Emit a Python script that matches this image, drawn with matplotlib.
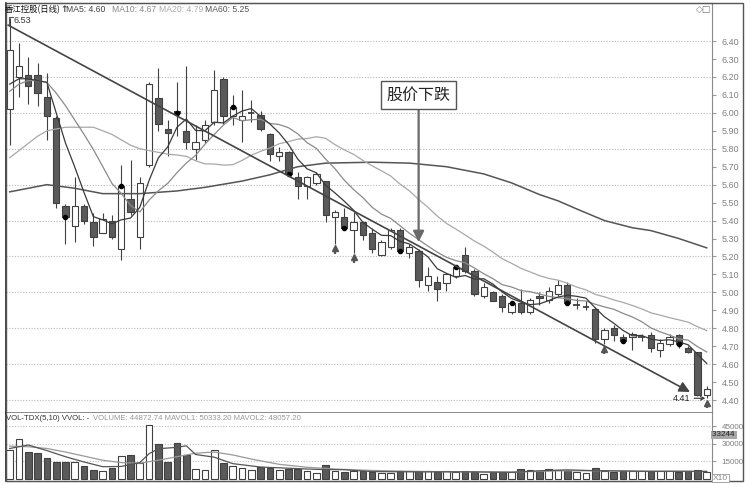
import matplotlib as mpl
mpl.use('Agg')
import matplotlib.pyplot as plt
from matplotlib.patches import Rectangle

plt.rcParams['font.family'] = ['Liberation Sans', 'Noto Sans CJK SC', 'DejaVu Sans']

# 日K線資料：開、高、低、收
opens = [6.02, 6.20, 6.21, 6.21, 6.09, 5.97, 5.48, 5.37, 5.48, 5.39,
         5.33, 5.40, 5.24, 5.52, 5.31, 5.71, 6.08, 5.91, 6.01, 5.90,
         5.80, 5.85, 5.95, 6.19, 5.98, 5.96, 6.00, 5.99, 5.88, 5.76,
         5.78, 5.64, 5.59, 5.61, 5.62, 5.42, 5.42, 5.35, 5.39, 5.33,
         5.21, 5.25, 5.35, 5.22, 5.23, 5.04, 5.06, 5.05, 5.09, 5.21,
         5.12, 4.98, 5.00, 4.98, 4.89, 4.94, 4.89, 4.98, 4.96, 4.99,
         5.04, 4.93, 4.92, 4.91, 4.74, 4.80, 4.75, 4.75, 4.75, 4.76,
         4.68, 4.71, 4.76, 4.69, 4.67, 4.43]
highs = [6.53, 6.39, 6.31, 6.28, 6.22, 5.98, 5.49, 5.64, 5.49, 5.44,
         5.44, 5.43, 5.71, 5.74, 5.64, 6.17, 6.25, 5.96, 6.17, 6.26,
         5.93, 5.96, 6.24, 6.20, 6.10, 6.13, 6.07, 6.01, 5.89, 5.81,
         5.79, 5.67, 5.65, 5.67, 5.62, 5.46, 5.47, 5.45, 5.40, 5.36,
         5.29, 5.36, 5.36, 5.27, 5.24, 5.14, 5.09, 5.11, 5.15, 5.25,
         5.13, 5.05, 5.01, 4.99, 4.95, 5.02, 4.97, 5.00, 5.03, 5.07,
         5.06, 4.97, 4.95, 4.92, 4.80, 4.82, 4.77, 4.78, 4.77, 4.78,
         4.74, 4.77, 4.77, 4.70, 4.67, 4.48]
lows = [5.82, 6.09, 6.05, 6.04, 5.85, 5.47, 5.27, 5.28, 5.38, 5.26,
        5.33, 5.30, 5.18, 5.43, 5.24, 5.70, 5.90, 5.76, 5.87, 5.80,
        5.74, 5.83, 5.93, 5.94, 5.93, 5.84, 5.95, 5.90, 5.73, 5.73,
        5.65, 5.52, 5.52, 5.60, 5.39, 5.27, 5.35, 5.22, 5.29, 5.22,
        5.20, 5.24, 5.22, 5.19, 5.03, 5.01, 4.95, 5.01, 5.08, 5.11,
        4.98, 4.97, 4.95, 4.89, 4.88, 4.88, 4.88, 4.93, 4.94, 4.98,
        4.93, 4.91, 4.90, 4.72, 4.71, 4.73, 4.72, 4.68, 4.73, 4.67,
        4.64, 4.70, 4.69, 4.66, 4.42, 4.41]
closes = [6.35, 6.26, 6.15, 6.11, 5.98, 5.50, 5.42, 5.48, 5.40, 5.31,
          5.41, 5.31, 5.59, 5.45, 5.61, 6.16, 5.94, 5.89, 6.00, 5.84,
          5.84, 5.93, 6.13, 5.98, 6.03, 5.98, 6.00, 5.91, 5.77, 5.78,
          5.66, 5.59, 5.64, 5.66, 5.43, 5.45, 5.36, 5.39, 5.32, 5.24,
          5.28, 5.35, 5.23, 5.25, 5.07, 5.09, 5.02, 5.10, 5.14, 5.12,
          4.99, 5.03, 4.95, 4.92, 4.94, 4.89, 4.96, 4.97, 5.01, 5.04,
          4.94, 4.93, 4.92, 4.74, 4.79, 4.76, 4.73, 4.77, 4.75, 4.69,
          4.72, 4.75, 4.71, 4.67, 4.43, 4.46]

# 均線
ma5 = [6.16, 6.19, 6.19, 6.18, 6.17, 6.00, 5.832, 5.698, 5.556, 5.422,
       5.404, 5.382, 5.404, 5.414, 5.474, 5.624, 5.75, 5.81, 5.92, 5.966,
       5.902, 5.90, 5.948, 5.944, 5.982, 6.01, 6.024, 5.98, 5.938, 5.888,
       5.824, 5.742, 5.688, 5.666, 5.596, 5.554, 5.508, 5.458, 5.39, 5.352,
       5.318, 5.316, 5.284, 5.27, 5.236, 5.198, 5.132, 5.106, 5.084, 5.094,
       5.074, 5.076, 5.046, 5.002, 4.966, 4.946, 4.932, 4.936, 4.954, 4.974,
       4.984, 4.978, 4.968, 4.914, 4.864, 4.828, 4.788, 4.758, 4.76, 4.74,
       4.732, 4.736, 4.724, 4.708, 4.656, 4.604]
ma10 = [6.12, 6.16, 6.18, 6.18, 6.17, 6.11, 6.04, 5.96, 5.88, 5.796,
        5.702, 5.607, 5.551, 5.485, 5.448, 5.514, 5.566, 5.607, 5.667, 5.72,
        5.763, 5.825, 5.879, 5.932, 5.974, 5.956, 5.962, 5.964, 5.941, 5.935,
        5.917, 5.883, 5.834, 5.802, 5.742, 5.689, 5.625, 5.573, 5.528, 5.474,
        5.436, 5.412, 5.371, 5.33, 5.294, 5.258, 5.224, 5.195, 5.177, 5.165,
        5.136, 5.104, 5.076, 5.043, 5.03, 5.01, 5.004, 4.991, 4.978, 4.97,
        4.965, 4.955, 4.952, 4.934, 4.919, 4.906, 4.883, 4.863, 4.837, 4.802,
        4.78, 4.762, 4.741, 4.734, 4.698, 4.668]
ma20 = [5.75, 5.79, 5.83, 5.87, 5.90, 5.91, 5.92, 5.92, 5.92, 5.92,
        5.90, 5.88, 5.85, 5.82, 5.80, 5.79, 5.78, 5.77, 5.765, 5.758,
        5.733, 5.716, 5.715, 5.709, 5.711, 5.735, 5.764, 5.786, 5.804, 5.828,
        5.84, 5.854, 5.857, 5.867, 5.858, 5.823, 5.794, 5.769, 5.735, 5.705,
        5.677, 5.648, 5.603, 5.566, 5.518, 5.474, 5.425, 5.384, 5.353, 5.320,
        5.286, 5.258, 5.224, 5.187, 5.162, 5.134, 5.114, 5.093, 5.078, 5.068,
        5.051, 5.030, 5.014, 4.989, 4.975, 4.958, 4.944, 4.927, 4.908, 4.886,
        4.873, 4.859, 4.847, 4.834, 4.809, 4.787]
ma60_idx = [1, 5, 8, 11, 15, 19, 22, 26, 29, 32, 35, 40, 44, 48, 52, 55,
            58, 60, 62, 65, 68, 70, 73, 76]
ma60 = [5.56, 5.60, 5.58, 5.55, 5.55, 5.565, 5.585, 5.62, 5.655, 5.70,
        5.72, 5.725, 5.72, 5.70, 5.66, 5.61, 5.545, 5.51, 5.465, 5.40,
        5.36, 5.344, 5.30, 5.248]

# 成交量
volume = [24300, 34300, 22800, 22000, 17700, 14900, 14900, 14300, 10700, 7800,
          6700, 9200, 19200, 20600, 13500, 45600, 30000, 14300, 30900, 20600,
          8700, 7800, 24900, 13500, 10700, 9200, 7800, 10100, 9200, 7800,
          8700, 8700, 6400, 4900, 12100, 7200, 5800, 6400, 6400, 5800,
          4900, 4900, 6400, 6400, 7200, 6400, 5800, 7200, 5800, 6400,
          5800, 4400, 5800, 5800, 5800, 8700, 8100, 7200, 8700, 8100,
          6400, 5800, 5300, 9200, 6400, 5800, 6400, 6400, 6400, 7200,
          6400, 6400, 5800, 6400, 7800, 5800]
vma1_idx = [1, 3, 5, 7, 9, 11, 13, 15, 16, 17, 19, 20, 21, 23, 25, 28, 31,
            34, 37, 40, 45, 50, 55, 58, 61, 64, 67, 70, 73, 76]
vma1 = [26000, 29000, 24200, 19000, 14500, 10500, 10700, 14000, 21600, 25800,
        27000, 28300, 20900, 18600, 13100, 10200, 9200, 8200, 7900, 6300,
        6100, 6100, 5700, 7000, 7800, 7100, 6800, 6500, 6600, 6500]
vma2_idx = [1, 3, 5, 7, 9, 11, 13, 15, 17, 19, 21, 23, 25, 27, 30, 33, 36,
            40, 45, 50, 55, 60, 65, 70, 76]
vma2 = [28000, 27500, 26000, 23000, 19500, 16000, 14000, 13500, 16000, 19000,
        22000, 23000, 20500, 17000, 12500, 10000, 8500, 7300, 6400, 6200,
        5900, 6900, 7100, 6600, 6400]

dot_idx = [7, 13, 19, 25, 31, 37, 43, 49, 55, 61, 67, 73]
mark_idx = [36, 38, 65, 76]
price_ticks = [round(4.4 + 0.1 * k, 2) for k in range(21)]
grid_levels = [round(4.4 + 0.2 * k, 2) for k in range(11)]

idx = list(range(1, len(closes) + 1))
W, H = 750, 484

fig = plt.figure(figsize=(7.5, 4.84), dpi=100)
ax = fig.add_axes([6 / W, 1 - 413 / H, 706 / W, 410 / H])
axv = fig.add_axes([6 / W, 1 - 481 / H, 706 / W, 68 / H])

dark = '#5a5a5a'
edge = '#404040'

# 格線
for g in grid_levels:
    ax.axhline(g, color='#b8b8b8', lw=0.8, ls=(0, (1, 1.5)), zorder=0)

# K線
for i in range(len(closes)):
    x, o, h, l, c = idx[i], opens[i], highs[i], lows[i], closes[i]
    ax.vlines(x, l, h, color=edge, lw=0.8, zorder=2)
    if abs(c - o) < 0.001:
        ax.hlines(c, x - 0.34, x + 0.34, color=edge, lw=1.3, zorder=3)
    else:
        ax.bar(x, abs(c - o), 0.68, bottom=min(o, c),
               color='white' if c > o else dark, edgecolor=edge, lw=0.8, zorder=3)

# 均線
ax.plot(ma60_idx, ma60, color='#555555', lw=1.1, zorder=4)
ax.plot(idx, ma20, color='#a8a8a8', lw=0.9, zorder=4)
ax.plot(idx, ma10, color='#8a8a8a', lw=0.9, zorder=4)
ax.plot(idx, ma5, color='#3a3a3a', lw=0.9, zorder=4)

ax.scatter(dot_idx, [closes[i - 1] for i in dot_idx], s=9, color='black', zorder=5)
for i in mark_idx:
    ax.vlines(i, lows[i - 1] - 0.055, lows[i - 1] - 0.03, color='#555555', lw=1.6, zorder=5)
    ax.plot(i, lows[i - 1] - 0.025, marker='^', ms=4.5, color='#555555', zorder=5)

# 下降趨勢線
ax.annotate('', xy=(74.2, 4.445), xytext=(0.82, 6.489),
            arrowprops=dict(arrowstyle='-|>', color='#444444', lw=1.2,
                            mutation_scale=16, shrinkA=0, shrinkB=0), zorder=6)

# 標註
ax.annotate('股价下跌', xy=(45.0, 5.28), xytext=(45.0, 6.10),
            ha='center', va='center', fontsize=11.5, color='#222222',
            family=['Noto Sans CJK SC'],
            bbox=dict(boxstyle='square,pad=0.35', fc='white', ec='#555555', lw=1),
            arrowprops=dict(arrowstyle='-|>', color='#6a6a6a', lw=1.6,
                            mutation_scale=16, shrinkA=0, shrinkB=0), zorder=7)

ax.plot([0.95, 0.95, 1.35], [6.49, 6.535, 6.535], color='#555555', lw=0.8)
ax.text(1.45, 6.515, '6.53', fontsize=6.5, color='#333333', va='center')
ax.annotate('4.41', xy=(76.0, 4.41), xytext=(74.2, 4.41), ha='right', va='center',
            fontsize=6.5, color='#222222',
            arrowprops=dict(arrowstyle='->', color='#333333', lw=0.8,
                            shrinkA=1, shrinkB=1))

ax.set_xlim(0.6, 76.57)
ax.set_ylim(4.328, 6.612)
ax.set_xticks([])
ax.yaxis.tick_right()
ax.set_yticks(price_ticks)
ax.set_yticklabels(['%.2f' % t for t in price_ticks])
ax.tick_params(axis='y', labelsize=6.5, labelcolor='#808080', color='#999999',
               length=3, pad=4)
ax.spines['left'].set_color('#222222')
ax.spines['left'].set_linewidth(1.2)
ax.spines['top'].set_color('#555555')
ax.spines['right'].set_color('#8a8a8a')
ax.spines['bottom'].set_color('#777777')
ax.spines['bottom'].set_linewidth(1.2)

# 成交量
for y in [15000, 30000, 45000]:
    axv.axhline(y, color='#c0c0c0', lw=0.8, ls=(0, (1, 1.5)), zorder=0)
for i in range(len(volume)):
    up = closes[i] >= opens[i]
    axv.bar(idx[i], volume[i], 0.72, color='white' if up else dark,
            edgecolor=edge, lw=0.8, zorder=2)
axv.plot(vma2_idx, vma2, color='#999999', lw=0.9, zorder=3)
axv.plot(vma1_idx, vma1, color='#555555', lw=0.9, zorder=3)
axv.set_xlim(0.6, 76.57)
axv.set_ylim(-1700, 56250)
axv.set_xticks([])
axv.yaxis.tick_right()
axv.set_yticks([15000, 30000, 45000])
axv.set_yticklabels(['15000', '30000', '45000'])
axv.tick_params(axis='y', labelsize=5.8, labelcolor='#808080', color='#999999',
                length=3, pad=4)
axv.spines['left'].set_color('#222222')
axv.spines['left'].set_linewidth(1.2)
axv.spines['top'].set_visible(False)
axv.spines['right'].set_color('#8a8a8a')
axv.spines['bottom'].set_color('#444444')
axv.text(1.0, 37700, '33244 ', transform=axv.get_yaxis_transform(), fontsize=5.8,
         color='#222222', va='center', ha='left',
         bbox=dict(boxstyle='square,pad=0.08', fc='#a8a8a8', ec='none'))

# 標題列
ty = 1 - 10 / H
fig.text(5 / W, ty, '香江控股(日线)', fontsize=6, color='#111111',
         va='center', family=['Noto Sans CJK SC'])
fig.text(60 / W, ty, '↑', fontsize=6.5, color='#444444', va='center',
         fontweight='bold', family='DejaVu Sans')
fig.text(66 / W, ty, 'MA5: 4.60', fontsize=6.2, color='#444444', va='center')
fig.text(112 / W, ty, 'MA10: 4.67', fontsize=6.2, color='#888888', va='center')
fig.text(159 / W, ty, 'MA20: 4.79', fontsize=6.2, color='#aaaaaa', va='center')
fig.text(205 / W, ty, 'MA60: 5.25', fontsize=6.2, color='#555555', va='center')
fig.text(696 / W, 1 - 9 / H, '◇□', fontsize=6.5, color='#777777', va='center',
         family='DejaVu Sans')

fig.text(6 / W, 1 - 419 / H, 'VOL-TDX(5,10) VVOL: -', fontsize=5.6, color='#333333',
         va='center')
fig.text(93 / W, 1 - 419 / H, 'VOLUME: 44872.74 MAVOL1: 50333.20 MAVOL2: 48057.20',
         fontsize=5.6, color='#999999', va='center')
fig.text(713 / W, 1 - 478 / H, 'X10', fontsize=6, color='#888888', va='center',
         bbox=dict(boxstyle='square,pad=0.1', fc='white', ec='#999999', lw=0.6))

fig.add_artist(Rectangle((6 / W, 3 / H), 737 / W, 478 / H, transform=fig.transFigure,
                         fill=False, ec='#555555', lw=1.0))

plt.savefig('out.png')
plt.close()
